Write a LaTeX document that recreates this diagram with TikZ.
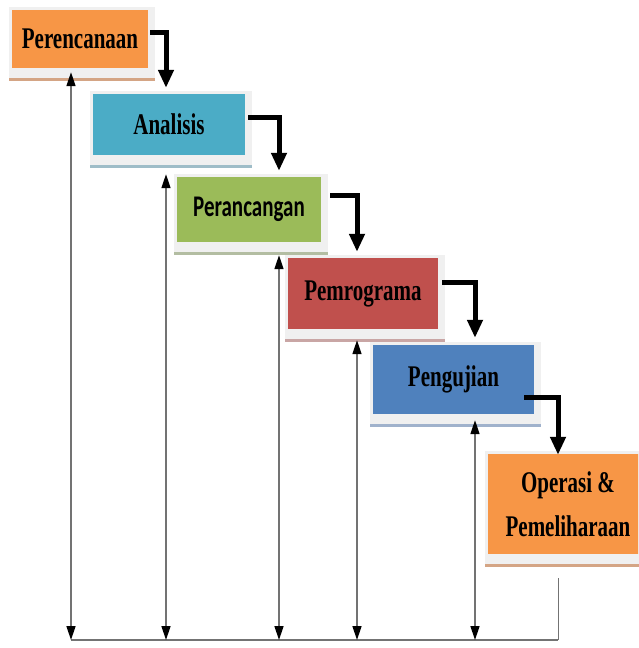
\documentclass[tikz,border=0pt]{standalone}
\usepackage{fontspec}
\setmainfont{Liberation Serif}[FakeStretch=0.7]
\newfontfamily\stagesans{Carlito}[FakeStretch=0.7]
\usetikzlibrary{arrows.meta,calc,backgrounds}
\definecolor{planorange}{HTML}{F79646}
\definecolor{analaqua}{HTML}{4BACC6}
\definecolor{desngreen}{HTML}{9BBB59}
\definecolor{progred}{HTML}{C0504D}
\definecolor{testblue}{HTML}{4F81BD}
\definecolor{planshade}{HTML}{D4A585}
\definecolor{analshade}{HTML}{9FBDC8}
\definecolor{desnshade}{HTML}{B3BDA2}
\definecolor{progshade}{HTML}{C9A6A5}
\definecolor{testshade}{HTML}{A0B2CC}
\definecolor{framegray}{HTML}{F0F0F0}
\begin{document}
\begin{tikzpicture}[x=1pt,y=-1pt,
  stage/.style={inner sep=0pt,align=center,text=black,font=\fontsize{30}{44}\selectfont\bfseries},
  feedback/.style={draw=black!55,line width=1.4pt,{Triangle[length=14pt,width=9pt,color=black]}-{Triangle[length=14pt,width=9pt,color=black]}},
  flow/.style={line width=5pt,-{Triangle[length=18pt,width=15pt]}}]
\useasboundingbox (0,0) rectangle (638,648);
\clip (0,0) rectangle (638,648);
% stages
\node[stage,fill=planorange,minimum width=136pt,minimum height=58pt] (plan) at (80,39) {Perencanaan};
\node[stage,fill=analaqua,minimum width=152pt,minimum height=61pt] (anal) at (169,124.5) {Analisis};
\node[stage,fill=desngreen,minimum width=144pt,minimum height=65pt,font=\fontsize{30}{44}\stagesans\bfseries] (desn) at (249,209.5) {Perancangan};
\node[stage,fill=progred,minimum width=150pt,minimum height=71pt] (prog) at (363,293.5) {Pemrograma};
\node[stage,fill=testblue,minimum width=161pt,minimum height=69pt] (test) at (453.5,379.5) {Pengujian};
\node[stage,fill=planorange,minimum width=160pt,minimum height=100pt] (oper) at (568,504) {Operasi \&\\Pemeliharaan};
% frames behind the stages
\begin{pgfonlayer}{background}
\foreach \s/\c in {plan/planshade,anal/analshade,desn/desnshade,prog/progshade,test/testshade,oper/planshade}
{
	\fill[framegray] ($(\s.north west)+(-3,-3)$) rectangle ($(\s.south east)+(7,13)$);
	\fill[\c] ($(\s.south west)+(-3,10)$) rectangle ($(\s.south east)+(7,13)$);
}
\end{pgfonlayer}
% feedback lines
\foreach \i/\x in {1/71,2/166,3/279,4/357,5/475,6/558}
	\coordinate (c\i) at (\x,640);
\draw[black!55,line width=1.8pt] (c1) -- (c6);
\draw[black!55,line width=1pt] (c6) -- ($(c6 |- oper.south)+(0,24)$);
\foreach \i/\s/\dy in {1/plan/4,2/anal/19,3/desn/13,4/prog/11,5/test/6}
	\draw[feedback] (c\i) -- ($(c\i |- \s.south)+(0,\dy)$);
% flow arrows
\foreach \s/\t/\j/\dx/\dy/\ey in {plan/anal/2/2/-7/-6,anal/desn/3/3/-7/-6,desn/prog/4/9/-14/-6,prog/test/5/4/-11/-7,test/oper/6/-10/18/1}
	\draw[flow] ($(\s.east)+(\dx,\dy)$) -| ($(c\j |- \t.north)+(0,\ey)$);
\end{tikzpicture}
\end{document}
